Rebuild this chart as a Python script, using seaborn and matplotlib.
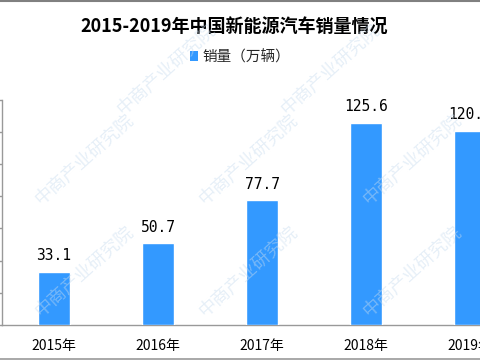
import matplotlib
matplotlib.use("Agg")
import matplotlib.pyplot as plt
import seaborn as sns
import pandas as pd
from matplotlib.patches import Patch
from matplotlib.lines import Line2D

years = ["2015年", "2016年", "2017年", "2018年", "2019年"]
sales = [33.1, 50.7, 77.7, 125.6, 120.6]
series_name = "销量（万辆）"
title = "2015-2019年中国新能源汽车销量情况"

sns.set_theme(style="white")
plt.rcParams['font.family'] = ['Noto Sans CJK SC', 'DejaVu Sans']

df = pd.DataFrame({"year": years, "sales": sales})

W, H = 480, 360
fig = plt.figure(figsize=(4.8, 3.6), dpi=100)
# axes extends beyond the right edge (cropped like the reference)
ax = fig.add_axes([2 / W, (H - 325) / H, 520 / W, 225.5 / H])

bar_color = "#3399FF"
sns.barplot(data=df, x="year", y="sales", color=bar_color, width=0.31,
            saturation=1, ax=ax, zorder=3)

ax.set_xlim(-0.5, 4.5)
ax.set_ylim(0, 140)
ax.set_yticks(range(0, 141, 20))
ax.tick_params(axis="y", left=True, length=5, width=1, color="#999999",
               labelleft=False, direction="out")
ax.tick_params(axis="x", bottom=False, labelsize=10, pad=4, colors="black")
for lbl in ax.get_xticklabels():
    lbl.set_fontfamily(['Noto Sans CJK SC', 'DejaVu Sans'])
ax.set_xlabel("")
ax.set_ylabel("")
for s in ["top", "right"]:
    ax.spines[s].set_visible(False)
for s in ["left", "bottom"]:
    ax.spines[s].set_color("#999999")
    ax.spines[s].set_linewidth(1)
ax.set_facecolor("none")

for i, v in enumerate(sales):
    ax.annotate(f"{v:.1f}", (i, v), xytext=(0, 6), textcoords="offset points",
                ha="center", va="bottom", fontsize=10.5,
                family="DejaVu Sans Mono", color="black", zorder=5)

# watermarks (faint)
wm_pos = [(85, 160), (249, 160), (413, 160), (85, 272), (249, 272), (413, 272),
          (167, 70), (331, 70)]
for xi, yi in wm_pos:
    fig.text(xi / W, 1 - yi / H, "中商产业研究院", rotation=42,
             ha="center", va="center", fontsize=13, color="#c8dcef",
             alpha=0.45, zorder=10)

fig.text(234 / W, 1 - 27 / H, title, ha="center", va="center",
         fontsize=13, fontweight="bold", color="black")

handle = Patch(facecolor=bar_color, edgecolor="none")
fig.legend([handle], [series_name], loc="center", bbox_to_anchor=(240 / W, 1 - 57 / H),
           frameon=False, fontsize=10.5, handlelength=0.6, handleheight=0.6,
           handletextpad=0.3, borderaxespad=0)

# border lines at top and bottom
fig.add_artist(Line2D([0, 1], [1 - 0.5 / H, 1 - 0.5 / H], transform=fig.transFigure,
                      color="#808080", linewidth=1.5))
fig.add_artist(Line2D([0, 1], [1.0 / H, 1.0 / H], transform=fig.transFigure,
                      color="#999999", linewidth=1.2))

fig.savefig("out.png", dpi=100)
